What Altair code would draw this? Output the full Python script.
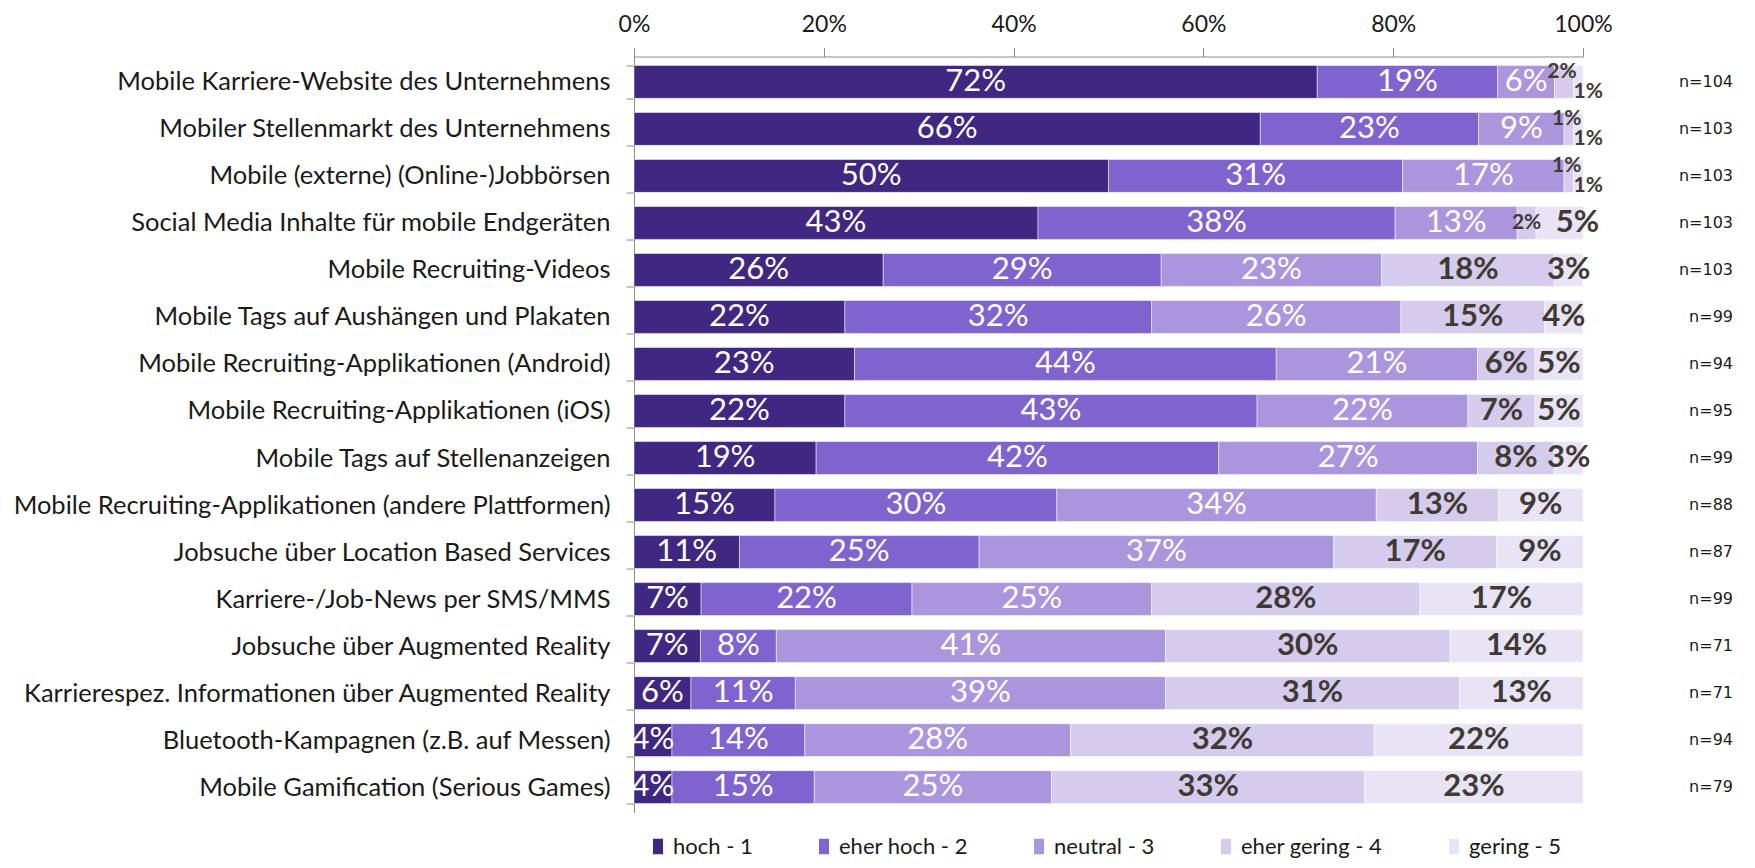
import altair as alt
import pandas as pd

items = [
    "Mobile Karriere-Website des Unternehmens",
    "Mobiler Stellenmarkt des Unternehmens",
    "Mobile (externe) (Online-)Jobbörsen",
    "Social Media Inhalte für mobile Endgeräten",
    "Mobile Recruiting-Videos",
    "Mobile Tags auf Aushängen und Plakaten",
    "Mobile Recruiting-Applikationen (Android)",
    "Mobile Recruiting-Applikationen (iOS)",
    "Mobile Tags auf Stellenanzeigen",
    "Mobile Recruiting-Applikationen (andere Plattformen)",
    "Jobsuche über Location Based Services",
    "Karriere-/Job-News per SMS/MMS",
    "Jobsuche über Augmented Reality",
    "Karrierespez. Informationen über Augmented Reality",
    "Bluetooth-Kampagnen (z.B. auf Messen)",
    "Mobile Gamification (Serious Games)",
]
categories = ["hoch - 1", "eher hoch - 2", "neutral - 3", "eher gering - 4", "gering - 5"]
colors = ["#3f2782", "#7f63cf", "#ab96de", "#d5cbed", "#e8e4f6"]

hoch = [72, 66, 50, 43, 26, 22, 23, 22, 19, 15, 11, 7, 7, 6, 4, 4]
eher_hoch = [19, 23, 31, 38, 29, 32, 44, 43, 42, 30, 25, 22, 8, 11, 14, 15]
neutral = [6, 9, 17, 13, 23, 26, 21, 22, 27, 34, 37, 25, 41, 39, 28, 25]
eher_gering = [2, 1, 1, 2, 18, 15, 6, 7, 8, 13, 17, 28, 30, 31, 32, 33]
gering = [1, 1, 1, 5, 3, 4, 5, 5, 3, 9, 9, 17, 14, 13, 22, 23]
n_values = [104, 103, 103, 103, 103, 99, 94, 95, 99, 88, 87, 99, 71, 71, 94, 79]

series = [hoch, eher_hoch, neutral, eher_gering, gering]
rows = []
for i, item in enumerate(items):
    crowded = eher_gering[i] <= 2 and gering[i] <= 2
    nudge = eher_gering[i] <= 2 and gering[i] > 2
    for k, cat in enumerate(categories):
        v = series[k][i]
        rows.append({
            "item": item, "cat": cat, "order": k, "value": v,
            "label": f"{v}%", "crowded": crowded, "nudge": nudge,
        })
df = pd.DataFrame(rows)
ndf = pd.DataFrame({"item": items, "n": [f"n={n}" for n in n_values]})

FONT = "Lato"
W, H = 949, 756

y_enc = alt.Y("item:N", sort=items, title=None,
              scale=alt.Scale(paddingInner=0.3, paddingOuter=0.19),
              axis=alt.Axis(labelFont=FONT, labelFontSize=25.5, labelColor="#1a1a1a",
                            labelPadding=16, labelLimit=620, tickBand="extent",
                            tickSize=8, tickColor="#8a8a8a", domainColor="#8a8a8a",
                            ticks=True, domain=True))

base = alt.Chart(df).transform_stack(
    stack="value", groupby=["item"], as_=["x0", "x1"], offset="normalize",
    sort=[alt.SortField("order", order="ascending")]
).transform_calculate(mid="(datum.x0 + datum.x1) / 2")

bars = base.mark_bar(stroke="#ffffff", strokeWidth=0.5).encode(
    y=y_enc,
    x=alt.X("x0:Q", title=None, scale=alt.Scale(domain=[0, 1]),
            axis=alt.Axis(orient="top", format=".0%", values=[0, 0.2, 0.4, 0.6, 0.8, 1.0],
                          labelFont=FONT, labelFontSize=23, labelColor="#1a1a1a",
                          labelPadding=11, tickSize=9, tickColor="#8a8a8a",
                          domainColor="#8a8a8a", grid=False, labelFlush=False)),
    x2="x1:Q",
    color=alt.Color("cat:N", sort=categories,
                    scale=alt.Scale(domain=categories, range=colors),
                    legend=alt.Legend(title=None, orient="none", direction="horizontal",
                                      legendX=13, legendY=779, columns=5,
                                      symbolType="M-0.65,-1L0.65,-1L0.65,1L-0.65,1Z",
                                      symbolSize=240,
                                      symbolStrokeWidth=0, labelFont=FONT,
                                      labelFontSize=22, labelColor="#1a1a1a",
                                      columnPadding=60, labelOffset=4)),
)

def txt(filter_expr, **kw):
    return base.transform_filter(filter_expr).mark_text(font=FONT, **kw).encode(
        y=alt.Y("item:N", sort=items), x="mid:Q", text="label:N")

txt_white = txt("datum.order <= 2", fontSize=31, color="#ffffff")
txt_dark = txt("datum.order >= 3 && datum.value > 2 && !datum.nudge",
               fontSize=31, fontWeight="bold", color="#403a35")
txt_dark_nudge = txt("datum.order == 4 && datum.nudge",
                     fontSize=31, fontWeight="bold", color="#403a35", dx=18)
txt_small_mid = txt("datum.order >= 3 && datum.value <= 2 && !datum.crowded",
                    fontSize=21, fontWeight="bold", color="#403a35")
txt_small_up = txt("datum.order == 3 && datum.crowded",
                   fontSize=21, fontWeight="bold", color="#403a35", dy=-10, dx=-2)
txt_small_down = txt("datum.order == 4 && datum.crowded",
                     fontSize=21, fontWeight="bold", color="#403a35", dy=10, dx=10)

n_txt = alt.Chart(ndf).mark_text(
    font="DejaVu Sans", fontSize=16, color="#1a1a1a", align="right"
).encode(y=alt.Y("item:N", sort=items), x=alt.value(1099), text="n:N")

chart = alt.layer(bars, txt_white, txt_dark, txt_dark_nudge, txt_small_mid,
                  txt_small_up, txt_small_down, n_txt).properties(
    width=W, height=H,
    autosize=alt.AutoSizeParams(type="none"),
    padding={"left": 626, "top": 48.5, "right": 160, "bottom": 47.5},
).configure_view(stroke=None)

chart.save("out.html", embed_options={"renderer": "svg", "actions": False})
